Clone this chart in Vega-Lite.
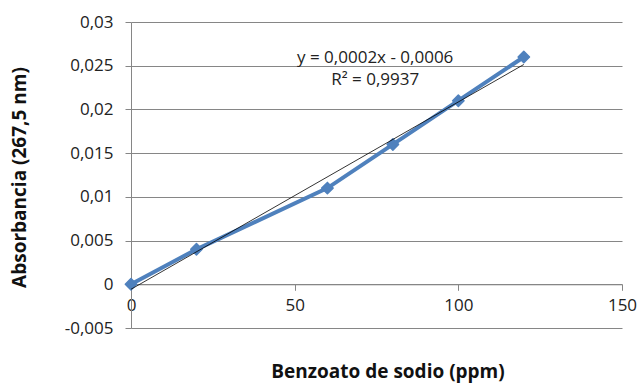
{
  "$schema": "https://vega.github.io/schema/vega-lite/v6.json",
  "width": 491,
  "height": 306,
  "autosize": "none",
  "padding": {"left": 131, "top": 22, "right": 17, "bottom": 55},
  "background": "white",
  "config": {
    "view": {"stroke": null},
    "font": "Open Sans"
  },
  "datasets": {
    "series": [
      {"x": 0, "y": 0},
      {"x": 20, "y": 0.004},
      {"x": 60, "y": 0.011},
      {"x": 80, "y": 0.016},
      {"x": 100, "y": 0.021},
      {"x": 120, "y": 0.026}
    ],
    "trend": [
      {"x": 0, "y": -0.00057},
      {"x": 120, "y": 0.02514}
    ]
  },
  "layer": [
    {
      "data": {"name": "series"},
      "mark": {"type": "line", "color": "#4F81BD", "strokeWidth": 4},
      "encoding": {
        "x": {
          "field": "x", "type": "quantitative",
          "scale": {"domain": [0, 150], "nice": false, "zero": false},
          "axis": {
            "values": [0, 50, 100, 150],
            "grid": false,
            "offset": -43.71,
            "domainColor": "#868686",
            "tickColor": "#868686",
            "tickSize": 6,
            "labelFont": "Open Sans",
            "labelFontSize": 17,
            "labelColor": "#222222",
            "labelPadding": 7,
            "labelFlush": false,
            "title": "Benzoato de sodio (ppm)",
            "titleFont": "Open Sans",
            "titleFontSize": 19,
            "titleFontWeight": "bold",
            "titleColor": "#111111",
            "titleX": 256.5,
            "titleY": 87.7,
            "titleBaseline": "middle",
            "titleAlign": "center"
          }
        },
        "y": {
          "field": "y", "type": "quantitative",
          "scale": {"domain": [-0.005, 0.03], "nice": false, "zero": false},
          "axis": {
            "values": [-0.005, 0, 0.005, 0.01, 0.015, 0.02, 0.025, 0.03],
            "labelExpr": "replace(replace(format(datum.value, '.3~f'), '.', ','), '\u2212', '-')",
            "grid": true,
            "gridColor": "#868686",
            "domainColor": "#868686",
            "tickColor": "#868686",
            "tickSize": 6,
            "labelFont": "Open Sans",
            "labelFontSize": 17,
            "labelColor": "#222222",
            "labelPadding": 12,
            "title": "Absorbancia (267,5 nm)",
            "titleFont": "Open Sans",
            "titleFontSize": 19,
            "titleFontWeight": "bold",
            "titleColor": "#111111",
            "titleX": -111.5,
            "titleY": 155,
            "titleAngle": -90,
            "titleBaseline": "middle",
            "titleAlign": "center"
          }
        }
      }
    },
    {
      "data": {"name": "series"},
      "mark": {"type": "point", "shape": "diamond", "filled": true, "color": "#4F81BD", "stroke": "#4F81BD", "strokeWidth": 1.5, "strokeJoin": "round", "size": 130, "opacity": 1},
      "encoding": {
        "x": {"field": "x", "type": "quantitative"},
        "y": {"field": "y", "type": "quantitative"}
      }
    },
    {
      "data": {"name": "trend"},
      "mark": {"type": "line", "color": "#000000", "strokeWidth": 0.8},
      "encoding": {
        "x": {"field": "x", "type": "quantitative"},
        "y": {"field": "y", "type": "quantitative"}
      }
    },
    {
      "data": {"values": [{}]},
      "mark": {"type": "text", "font": "Open Sans", "fontSize": 17, "color": "#222222", "align": "center", "baseline": "middle"},
      "encoding": {
        "x": {"datum": 74.6, "type": "quantitative"},
        "y": {"datum": 0.02588, "type": "quantitative"},
        "text": {"value": "y = 0,0002x - 0,0006"}
      }
    },
    {
      "data": {"values": [{}]},
      "mark": {"type": "text", "font": "Open Sans", "fontSize": 17, "color": "#222222", "align": "center", "baseline": "middle"},
      "encoding": {
        "x": {"datum": 74.6, "type": "quantitative"},
        "y": {"datum": 0.02336, "type": "quantitative"},
        "text": {"value": "R² = 0,9937"}
      }
    }
  ]
}
